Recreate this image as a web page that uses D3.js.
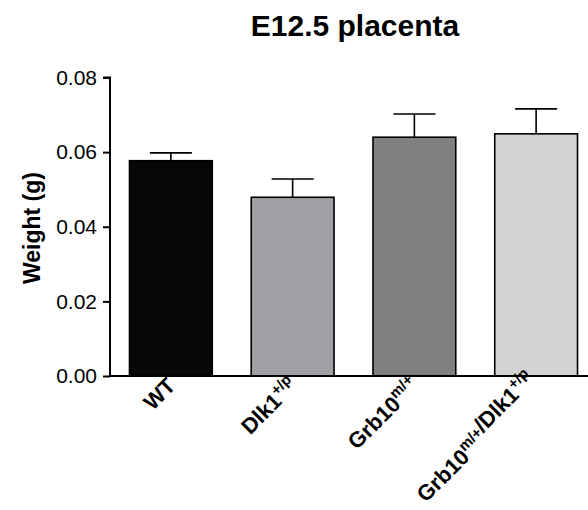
<!DOCTYPE html>
<html>
<head>
<meta charset="utf-8">
<script src="https://cdn.jsdelivr.net/npm/d3@7"></script>
<style>
  body { margin: 0; background: #fff; }
  text { font-family: "Liberation Sans", Arial, sans-serif; fill: #000; }
</style>
</head>
<body>
<div id="chart"></div>
<script>
// data
var groups = ["WT", "Dlk1", "Grb10", "Grb10/Dlk1"];
var means = [0.0577, 0.0479, 0.0640, 0.0649];
var sems = [0.0021, 0.0049, 0.0062, 0.0067];
var fills = ["#070707", "#a0a1a4", "#808080", "#d3d3d3"];
// label pieces: [normal text, superscript]
var labelParts = [
    [["WT", ""]],
    [["Dlk1", "+/p"]],
    [["Grb10", "m/+"]],
    [["Grb10", "m/+"], ["/Dlk1", "+/p"]]
];
var yTicks = [0, 0.02, 0.04, 0.06, 0.08];

var svgWidth = 588;
var svgHeight = 510;
var axisX = 110;
var baseY = 376;

var svg = d3.select("#chart")
    .append("svg")
    .attr("width", svgWidth)
    .attr("height", svgHeight);

var x = d3.scaleBand()
    .domain(groups)
    .range([axisX, 597])
    .paddingInner(0.32)
    .paddingOuter(0.16);

var y = d3.scaleLinear()
    .domain([0, 0.08])
    .range([baseY, 77.5]);

// title
svg.append("text")
    .attr("x", 355)
    .attr("y", 36)
    .attr("text-anchor", "middle")
    .attr("font-size", "30px")
    .attr("font-weight", "bold")
    .attr("fill", "#1a1a1a")
    .text("E12.5 placenta");

// y axis
var leftAxis = d3.axisLeft(y)
    .tickValues(yTicks)
    .tickFormat(d3.format(".2f"))
    .tickSize(7)
    .tickPadding(6);

var yAxisG = svg.append("g")
    .attr("transform", `translate(${axisX}, 0)`)
    .call(leftAxis);
yAxisG.select(".domain").attr("stroke-width", 2).attr("d", `M-7,${y(0.08)}H0V${baseY}`);
yAxisG.selectAll(".tick line").attr("stroke-width", 2);
yAxisG.selectAll(".tick text")
    .attr("font-size", "21px")
    .attr("font-family", "Liberation Sans, Arial, sans-serif")
    .attr("fill", "#000");

svg.append("text")
    .attr("transform", "rotate(-90)")
    .attr("x", -228)
    .attr("y", 40)
    .attr("text-anchor", "middle")
    .attr("font-size", "23px")
    .attr("font-weight", "bold")
    .text("Weight (g)");

// bars
svg.selectAll(".bar")
    .data(groups)
    .enter()
    .append("rect")
    .attr("class", "bar")
    .attr("x", d => x(d))
    .attr("width", x.bandwidth())
    .attr("y", (d, i) => y(means[i]))
    .attr("height", (d, i) => baseY - y(means[i]))
    .attr("fill", (d, i) => fills[i])
    .attr("stroke", "#000")
    .attr("stroke-width", 1.6);

// error bars (upper only)
var capHalf = 21;
var errG = svg.selectAll(".err")
    .data(groups)
    .enter()
    .append("g")
    .attr("class", "err")
    .attr("stroke", "#000")
    .attr("stroke-width", 1.6);

errG.append("line")
    .attr("x1", d => x(d) + x.bandwidth() / 2)
    .attr("x2", d => x(d) + x.bandwidth() / 2)
    .attr("y1", (d, i) => y(means[i]))
    .attr("y2", (d, i) => y(means[i] + sems[i]));

errG.append("line")
    .attr("x1", d => x(d) + x.bandwidth() / 2 - capHalf)
    .attr("x2", d => x(d) + x.bandwidth() / 2 + capHalf)
    .attr("y1", (d, i) => y(means[i] + sems[i]))
    .attr("y2", (d, i) => y(means[i] + sems[i]));

// x axis line
svg.append("line")
    .attr("x1", axisX)
    .attr("x2", svgWidth)
    .attr("y1", baseY)
    .attr("y2", baseY)
    .attr("stroke", "#000")
    .attr("stroke-width", 2);

// rotated x labels
var xLabels = svg.selectAll(".xlab")
    .data(groups)
    .enter()
    .append("text")
    .attr("class", "xlab")
    .attr("text-anchor", "end")
    .attr("font-size", "22px")
    .attr("font-weight", "bold")
    .attr("transform", d => `translate(${x(d) + x.bandwidth() / 2 + 6}, ${baseY + 11}) rotate(-45)`);

xLabels.each(function (d, i) {
    var t = d3.select(this);
    labelParts[i].forEach(function (p) {
        t.append("tspan").attr("dy", 0).text(p[0]);
        if (p[1]) {
            t.append("tspan")
                .attr("font-size", "15px")
                .attr("dy", -9)
                .text(p[1]);
            t.append("tspan").attr("dy", 9).text("");
        }
    });
});
</script>
</body>
</html>
